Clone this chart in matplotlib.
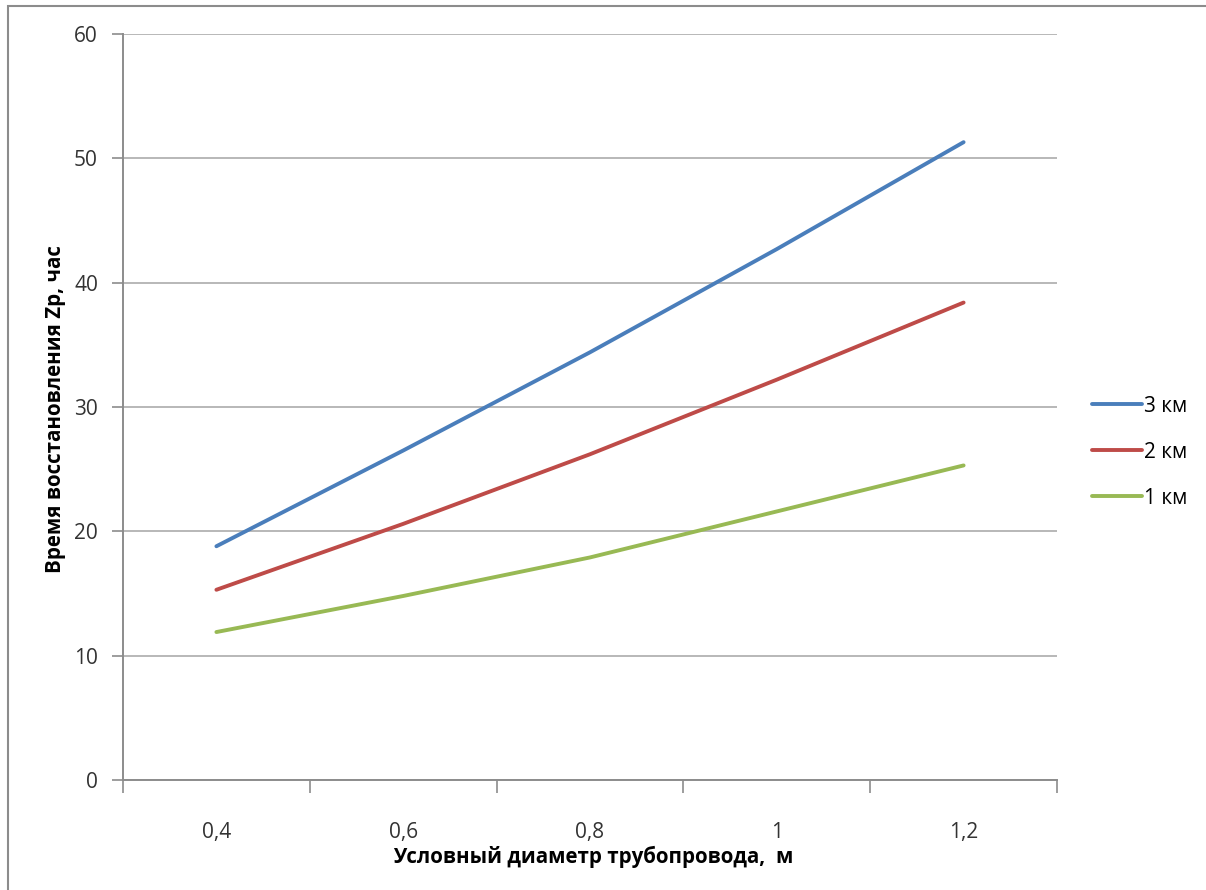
import matplotlib
matplotlib.use("Agg")
import matplotlib.pyplot as plt
from matplotlib.patches import Rectangle

# Данные
diameters = ["0,4", "0,6", "0,8", "1", "1,2"]
series_labels = ["3 км", "2 км", "1 км"]
time_3km = [18.8, 26.5, 34.4, 42.7, 51.3]
time_2km = [15.3, 20.6, 26.2, 32.2, 38.4]
time_1km = [11.9, 14.8, 17.9, 21.6, 25.3]
y_ticks = [0, 10, 20, 30, 40, 50, 60]

colors = ["#4A7EBB", "#BE4B48", "#98B954"]
FONT = ["Open Sans", "DejaVu Sans"]
W, H = 1206, 890

plt.rcParams["font.family"] = FONT

fig = plt.figure(figsize=(W / 100, H / 100), dpi=100)
ax = fig.add_axes([123 / W, 1 - 780 / H, (1057 - 123) / W, (780 - 34) / H])

# Рамка вокруг диаграммы (видна слева и сверху)
fig.patches.append(Rectangle((8 / W, -0.1), 2.0, 1 - 6 / H + 0.1,
                             transform=fig.transFigure, fill=False,
                             edgecolor="#8c8c8c", lw=1.5))

x = list(range(len(diameters)))
for vals, lab, c in zip([time_3km, time_2km, time_1km], series_labels, colors):
    ax.plot(x, vals, color=c, lw=2.8, label=lab, solid_capstyle="round")

ax.set_xlim(-0.5, len(diameters) - 0.5)
ax.set_ylim(0, 60)
ax.set_yticks(y_ticks)
ax.set_yticklabels([str(v) for v in y_ticks])

# Категорийная ось: засечки между категориями, подписи по центру
ax.set_xticks([i - 0.5 for i in range(len(diameters) + 1)])
ax.set_xticklabels([])
ax.set_xticks(x, minor=True)
ax.set_xticklabels(diameters, minor=True)
ax.tick_params(axis="x", which="major", length=9, width=1.2, color="#8c8c8c")
ax.tick_params(axis="x", which="minor", length=0, pad=30, labelsize=15,
               labelcolor="#333333")
ax.tick_params(axis="y", length=8, width=1.2, color="#8c8c8c", pad=10,
               labelsize=15, labelcolor="#333333")

ax.grid(axis="y", color="#b8b8b8", lw=1.4)
ax.set_axisbelow(True)
for s in ["top", "right"]:
    ax.spines[s].set_visible(False)
for s in ["left", "bottom"]:
    ax.spines[s].set_color("#8c8c8c")
    ax.spines[s].set_linewidth(1.4)

fig.text(593 / W, 1 - 857 / H, "Условный диаметр трубопровода,  м",
         ha="center", va="center", fontsize=14.8, fontweight="bold")
fig.text(56 / W, 1 - 409 / H, "Время восстановления Zp, час",
         ha="center", va="center", rotation=90, fontsize=14.8, fontweight="bold")

fig.legend(loc="center left", bbox_to_anchor=(1073 / W, 1 - 452 / H),
           frameon=False, fontsize=15, handlelength=2.4, handletextpad=0.1,
           labelspacing=1.2)

fig.savefig("out.png", dpi=100)
